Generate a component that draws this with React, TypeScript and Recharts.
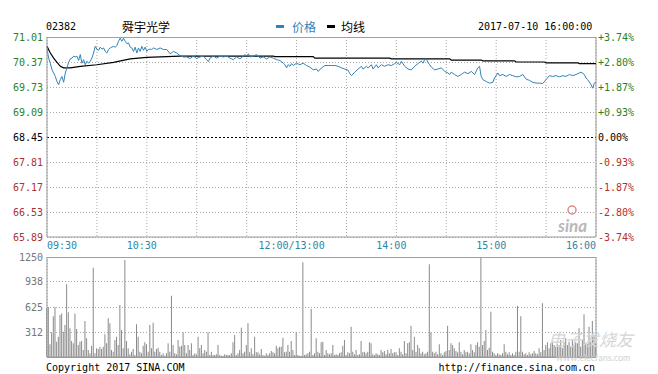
import { Bar, CartesianGrid, ComposedChart, Line, ReferenceLine, XAxis, YAxis } from "recharts";

// HK intraday chart: 舜宇光学 (02382), 2017-07-10. x = trading minute from 09:30 (lunch break removed).

const PREV_CLOSE = 68.45;

const timeTicks = [0, 30, 60, 90, 120, 150, 180, 210, 240, 270, 300, 330];
const timeLabels: Record<number, string> = {
  0: "09:30",
  60: "10:30",
  150: "12:00/13:00",
  210: "14:00",
  270: "15:00",
  330: "16:00",
};

const priceTicks = [65.89, 66.53, 67.17, 67.81, 68.45, 69.09, 69.73, 70.37, 71.01];
const pctLabels = ["-3.74%", "-2.80%", "-1.87%", "-0.93%", "0.00%", "+0.93%", "+1.87%", "+2.80%", "+3.74%"];
const volTicks = [0, 312, 625, 938, 1250];

const priceMin = [
  0, 1, 2, 3, 4, 5, 6, 7, 8, 9, 10, 11, 12, 13, 14, 15, 16, 17, 18, 19, 20, 21, 22, 23, 24, 25, 26, 27, 28, 29,
  30, 31, 32, 33, 34, 35, 36, 37, 38, 39, 40, 41, 42, 43, 44, 45, 46, 47, 48, 49, 50, 51, 52, 53, 54, 55, 56, 57,
  58, 59, 60, 61, 62, 63, 64, 66, 68, 70, 72, 74, 76, 78, 80, 82, 84, 86, 88, 90, 92, 94, 96, 97, 98, 100, 102,
  104, 106, 108, 110, 112, 114, 116, 118, 119, 120, 121, 122, 124, 126, 128, 130, 132, 134, 136, 138, 140, 142,
  143, 144, 145, 146, 147, 148, 150, 152, 154, 156, 158, 160, 162, 163, 165, 167, 169, 171, 173, 175, 177, 179,
  181, 182, 183, 185, 187, 189, 190, 192, 193, 195, 196, 198, 199, 201, 203, 205, 207, 209, 210, 212, 213, 215,
  217, 219, 221, 223, 225, 226, 227, 228, 229, 230, 231, 233, 235, 237, 239, 241, 242, 243, 245, 247, 249, 251,
  253, 255, 257, 259, 260, 261, 262, 264, 266, 268, 269, 271, 272, 274, 276, 278, 280, 282, 284, 286, 288, 290,
  292, 294, 296, 298, 300, 302, 304, 306, 308, 310, 312, 314, 316, 318, 320, 321, 323, 324, 325, 327, 328, 329, 330,
];
const priceVal = [
  70.7, 70.47, 70.34, 70.17, 70.09, 70.0, 69.87, 69.79, 69.92, 70.0, 69.85, 70.09, 70.22, 70.36, 70.45, 70.47,
  70.52, 70.5, 70.52, 70.41, 70.56, 70.34, 70.43, 70.3, 70.39, 70.34, 70.39, 70.47, 70.6, 70.77, 70.7, 70.67,
  70.75, 70.7, 70.73, 70.64, 70.6, 70.69, 70.73, 70.75, 70.77, 70.75, 70.79, 70.9, 70.98, 70.9, 70.98, 70.9,
  70.84, 70.86, 70.75, 70.73, 70.64, 70.75, 70.6, 70.73, 70.64, 70.77, 70.67, 70.75, 70.64, 70.69, 70.7, 70.69,
  70.73, 70.69, 70.73, 70.69, 70.69, 70.58, 70.64, 70.6, 70.53, 70.5, 70.5, 70.46, 70.52, 70.46, 70.5, 70.52,
  70.43, 70.38, 70.47, 70.52, 70.47, 70.52, 70.5, 70.52, 70.47, 70.43, 70.5, 70.45, 70.52, 70.56, 70.52, 70.58,
  70.5, 70.52, 70.56, 70.47, 70.5, 70.45, 70.5, 70.47, 70.43, 70.41, 70.34, 70.3, 70.22, 70.3, 70.26, 70.33,
  70.28, 70.34, 70.3, 70.34, 70.28, 70.24, 70.17, 70.19, 70.13, 70.22, 70.28, 70.28, 70.28, 70.28, 70.26, 70.22,
  70.19, 70.16, 70.07, 70.02, 70.11, 70.19, 70.26, 70.19, 70.26, 70.22, 70.3, 70.19, 70.3, 70.22, 70.3, 70.26,
  70.3, 70.28, 70.33, 70.36, 70.3, 70.39, 70.26, 70.19, 70.17, 70.26, 70.33, 70.39, 70.34, 70.43, 70.45, 70.36,
  70.3, 70.24, 70.17, 70.19, 70.22, 70.13, 70.09, 70.05, 70.11, 70.05, 70.0, 70.05, 70.11, 70.07, 70.13, 70.05,
  70.22, 70.26, 70.0, 69.92, 69.87, 69.83, 69.85, 69.96, 70.09, 70.02, 70.05, 70.0, 70.05, 70.02, 69.99, 70.0,
  70.05, 69.93, 69.9, 69.85, 69.83, 69.83, 69.82, 69.92, 70.02, 70.0, 70.02, 69.99, 70.02, 70.0, 70.05, 70.02,
  70.05, 70.09, 70.11, 70.05, 69.96, 69.92, 69.79, 69.7, 69.83, 69.85,
];

const avgMin = [0, 2, 4, 6, 8, 10, 14, 20, 30, 40, 50, 60, 80, 136, 137, 160, 161, 206, 207, 242, 243, 261, 262, 281, 282, 299, 300, 319, 320, 330];
const avgVal = [
  70.77, 70.6, 70.47, 70.36, 70.26, 70.22, 70.22, 70.26, 70.3, 70.36, 70.45, 70.49, 70.52, 70.52, 70.51, 70.51,
  70.47, 70.47, 70.45, 70.45, 70.42, 70.42, 70.4, 70.4, 70.37, 70.37, 70.35, 70.35, 70.33, 70.33,
];

// one value per minute, 0..330
const volumes = [
  608, 625, 158, 308, 508, 625, 192, 254, 525, 545, 317, 400, 908, 558, 358, 200, 171, 545, 350, 150,
  192, 200, 87, 450, 233, 87, 46, 142, 1117, 46, 108, 100, 129, 100, 129, 283, 171, 483, 421, 87,
  67, 213, 254, 150, 650, 338, 108, 1212, 200, 108, 33, 67, 100, 25, 408, 254, 67, 46, 142, 183,
  158, 67, 400, 108, 429, 67, 100, 117, 67, 25, 46, 17, 46, 171, 67, 767, 150, 46, 33, 213,
  129, 142, 308, 150, 46, 150, 87, 171, 25, 46, 33, 254, 108, 150, 46, 87, 67, 308, 25, 67,
  25, 25, 33, 150, 25, 17, 17, 33, 25, 25,
  25, 46, 183, 275, 25, 46, 87, 367, 46, 67, 150, 421, 58, 108, 33, 254, 58, 58, 33, 100,
  25, 17, 46, 25, 46, 75, 58, 46, 142, 108, 129, 129, 242, 58, 67, 150, 67, 200, 87, 25,
  317, 25, 17, 17, 1183, 25, 33, 46, 67, 600, 25, 46, 233, 67, 46, 183, 192, 25, 87, 46,
  33, 46, 150, 25, 33, 25, 46, 58, 142, 213, 25, 58, 46, 379, 67, 33, 87, 25, 33, 200,
  58, 67, 46, 67, 183, 171, 33, 25, 46, 33, 25, 87, 58, 75, 33, 87, 46, 100, 46, 58,
  58, 25, 108, 67, 33, 200, 46, 171, 183, 392,
  87, 254, 67, 150, 108, 46, 67, 33, 46, 67, 1158, 308, 67, 46, 67, 33, 158, 46, 25, 58,
  75, 392, 87, 171, 150, 108, 75, 58, 183, 67, 33, 87, 58, 67, 46, 158, 87, 58, 150, 183,
  129, 1250, 150, 200, 338, 87, 117, 567, 67, 46, 25, 46, 33, 25, 46, 158, 67, 33, 58, 25,
  46, 25, 67, 642, 67, 508, 67, 33, 46, 25, 58, 33, 46, 75, 46, 33, 108, 58, 671, 87,
  150, 183, 108, 171, 200, 150, 129, 158, 150, 213, 108, 183, 233, 150, 192, 129, 213, 150, 183, 171,
  358, 129, 213, 533, 171, 158, 379, 183, 450, 275, 171,
];

const MONO = '"DejaVu Sans Mono", "Liberation Mono", monospace';
const CJK = '"Noto Sans CJK SC", sans-serif';
const GREEN = "#2a7f2a";
const RED = "#b03030";
const TIME_BLUE = "#2f86a6";
const PRICE_BLUE = "#3482b6";
const GRID = "#a8a8a8";
const BORDER = "#9a9a9a";

const priceAt = new Map(priceMin.map((m, i) => [m, priceVal[i]]));
const avgAt = new Map(avgMin.map((m, i) => [m, avgVal[i]]));
const table = volumes.map((v, m) => ({
  m,
  v,
  p: priceAt.get(m) ?? null,
  a: avgAt.get(m) ?? null,
}));

function levelColor(value: number) {
  if (value > PREV_CLOSE + 0.001) return GREEN;
  if (value < PREV_CLOSE - 0.001) return RED;
  return "#000";
}

// Grid rows land on whole pixels; nudge half a pixel so a 1px dotted line stays one crisp row
// instead of smearing into two half-grey rows (which made them disappear).
function gridShape(color: string, dash?: string) {
  return (props: any) => {
    const y1 = Number(props.y1 ?? props.y ?? 0);
    const y2 = Number(props.y2 ?? y1);
    return (
      <line
        x1={props.x1}
        x2={props.x2}
        y1={Math.floor(y1) + 0.5}
        y2={Math.floor(y2) + 0.5}
        stroke={color}
        strokeWidth={1}
        strokeDasharray={dash}
        shapeRendering="crispEdges"
      />
    );
  };
}

function PriceTick({ x, y, payload }: any) {
  return (
    <text x={x} y={y} textAnchor="end" dominantBaseline="central" fontSize={10} fontFamily={MONO} fill={levelColor(payload.value)}>
      {payload.value.toFixed(2)}
    </text>
  );
}

function TimeTick({ x, y, payload }: any) {
  const label = timeLabels[payload.value];
  if (!label) return <g />;
  let anchor: "start" | "middle" | "end" = "middle";
  let dx = -5;
  if (payload.value === 0) {
    anchor = "start";
    dx = 0;
  } else if (payload.value === 330) {
    anchor = "end";
    dx = 0;
  }
  return (
    <text x={x + dx} y={y} textAnchor={anchor} dominantBaseline="central" fontSize={10} fontFamily={MONO} fill={TIME_BLUE}>
      {label}
    </text>
  );
}

function VolTick({ x, y, payload }: any) {
  if (payload.value === 0) return <g />;
  return (
    <text x={x} y={y} textAnchor="end" dominantBaseline="central" fontSize={10} fontFamily={MONO} fill="#777">
      {payload.value}
    </text>
  );
}

function priceLineShape(t: number, i: number) {
  if (t === PREV_CLOSE) return gridShape("#000", "2 2");
  if (i === priceTicks.length - 1) return gridShape("#a0a0a0");
  return gridShape(GRID, "1 2");
}

function volLineShape(i: number) {
  if (i === 0) return gridShape(BORDER);
  if (i === volTicks.length - 1) return gridShape("#a0a0a0");
  return gridShape(GRID, "1 2");
}

export default function App() {
  return (
    <div style={{ position: "absolute", left: 0, top: 0, width: 658, height: 374, background: "#fff" }}>
      <div style={{ position: "absolute", left: 0, top: 0 }}>
        <ComposedChart width={658} height={250} data={table} margin={{ top: 37, right: 62, bottom: 0, left: 46 }}>
          <CartesianGrid stroke={GRID} strokeDasharray="1 2" horizontal={false} />
          <XAxis
            dataKey="m"
            type="number"
            domain={[0, 330]}
            ticks={timeTicks}
            interval={0}
            height={13}
            tickSize={0}
            tickMargin={8}
            tickLine={false}
            axisLine={{ stroke: BORDER }}
            tick={<TimeTick />}
          />
          <YAxis
            domain={[65.89, 71.01]}
            ticks={priceTicks}
            interval={0}
            width={1}
            tickSize={0}
            tickMargin={4}
            tickLine={false}
            axisLine={{ stroke: BORDER }}
            tick={<PriceTick />}
          />
          {priceTicks.map((t, i) => (
            <ReferenceLine
              key={t}
              y={t}
              stroke={GRID}
              shape={priceLineShape(t, i)}
              label={{
                value: pctLabels[i],
                position: "right",
                offset: 2,
                fill: levelColor(t),
                fontSize: 10,
                fontFamily: MONO,
              }}
            />
          ))}
          <ReferenceLine x={330} stroke={BORDER} />
          <Line type="linear" dataKey="a" stroke="#000" strokeWidth={1.2} dot={false} connectNulls isAnimationActive={false} />
          <Line type="linear" dataKey="p" stroke={PRICE_BLUE} strokeWidth={1} dot={false} connectNulls isAnimationActive={false} />
        </ComposedChart>
      </div>
      <div style={{ position: "absolute", left: 0, top: 250 }}>
        <ComposedChart width={658} height={124} data={table} margin={{ top: 7, right: 62, bottom: 16, left: 46 }}>
          <CartesianGrid stroke={GRID} strokeDasharray="1 2" horizontal={false} />
          <XAxis
            dataKey="m"
            type="number"
            domain={[0, 330]}
            ticks={timeTicks}
            interval={0}
            height={1}
            tick={false}
            tickLine={false}
            axisLine={{ stroke: BORDER }}
          />
          <YAxis
            domain={[0, 1250]}
            ticks={volTicks}
            interval={0}
            width={1}
            tickSize={0}
            tickMargin={4}
            tickLine={false}
            axisLine={{ stroke: BORDER }}
            tick={<VolTick />}
          />
          {volTicks.map((t, i) => (
            <ReferenceLine key={t} y={t} stroke={GRID} shape={volLineShape(i)} />
          ))}
          <ReferenceLine x={330} stroke={BORDER} />
          <Bar dataKey="v" fill="#8a8a8a" barSize={1} isAnimationActive={false} />
        </ComposedChart>
      </div>
      <svg width={658} height={374} style={{ position: "absolute", left: 0, top: 0, pointerEvents: "none" }}>
        <text x={46} y={26} dominantBaseline="central" fontSize={10} fontFamily={MONO} fill="#000">02382</text>
        <text x={122} y={26} dominantBaseline="central" fontSize={12} fontFamily={CJK} fill="#000">舜宇光学</text>
        <rect x={276} y={25} width={8} height={3} fill={PRICE_BLUE} />
        <text x={292} y={26} dominantBaseline="central" fontSize={12} fontFamily={CJK} fill={PRICE_BLUE}>价格</text>
        <rect x={327} y={25} width={8} height={3} fill="#000" />
        <text x={341} y={26} dominantBaseline="central" fontSize={12} fontFamily={CJK} fill="#000">均线</text>
        <text x={478} y={26} dominantBaseline="central" fontSize={10} fontFamily={MONO} fill="#000">2017-07-10 16:00:00</text>
        <circle cx={572} cy={210} r={4} fill="none" stroke="#e08a8a" strokeWidth={1.5} />
        <text x={558} y={225} dominantBaseline="central" fontSize={17} fontStyle="italic" fontWeight="bold" fontFamily="Lato, sans-serif" fill="#b8b8b8">sina</text>
        <text x={548} y={338} dominantBaseline="central" fontSize={17} fontStyle="italic" fontFamily={CJK} fill="#d6d6d6">电子发烧友</text>
        <text x={556} y={357} dominantBaseline="central" fontSize={9} fontFamily="Lato, sans-serif" fill="#d2d2d2">www.elecfans.com</text>
        <text x={46} y={367} dominantBaseline="central" fontSize={10} fontFamily={MONO} fill="#000">Copyright 2017 SINA.COM</text>
        <text x={595} y={367} textAnchor="end" dominantBaseline="central" fontSize={10} fontFamily={MONO} fill="#000">http://finance.sina.com.cn</text>
      </svg>
    </div>
  );
}
